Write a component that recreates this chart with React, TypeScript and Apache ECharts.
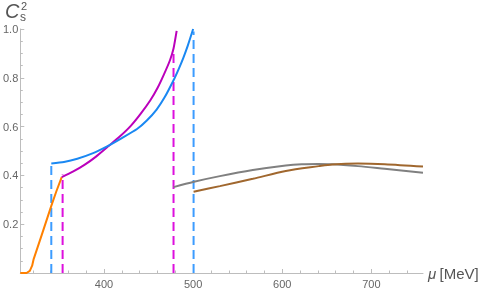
import React, { useEffect, useRef } from "react";
import * as echarts from "echarts";

// Orange branch
const MU_ORANGE = [306, 313, 316.7, 319.3, 321, 330, 340.8, 346.5, 352.5];
const CS2_ORANGE = [0, 0, 0.009, 0.03, 0.057, 0.155, 0.275, 0.335, 0.393];
// Magenta branch
const MU_MAGENTA = [352.5, 365, 378, 391, 404, 417, 430, 441, 452, 460, 467, 474, 478, 481.5];
const CS2_MAGENTA = [0.393, 0.415, 0.443, 0.477, 0.517, 0.557, 0.603, 0.652, 0.708, 0.758, 0.812, 0.872, 0.92, 0.992];
// Blue branch
const MU_BLUE = [340.8, 355, 370, 387, 404, 420, 437, 448, 459, 468, 478, 484, 489, 494, 500];
const CS2_BLUE = [0.449, 0.455, 0.468, 0.49, 0.52, 0.553, 0.59, 0.625, 0.67, 0.72, 0.79, 0.838, 0.882, 0.932, 1.0];
// Gray branch
const MU_GRAY = [478, 501, 530, 567, 604, 622, 640, 656, 685, 715, 758];
const CS2_GRAY = [0.352, 0.374, 0.397, 0.422, 0.441, 0.446, 0.447, 0.446, 0.438, 0.427, 0.411];
// Brown branch
const MU_BROWN = [500.5, 530, 567, 604, 641, 656, 685, 715, 758];
const CS2_BROWN = [0.333, 0.356, 0.386, 0.418, 0.438, 0.445, 0.449, 0.446, 0.436];
// Dashed transition markers
const DASH_BLUE_MU = [340.8, 500.5];
const DASH_BLUE_TOP = [0.449, 0.99];
const DASH_MAGENTA_MU = [353.5, 478];
const DASH_MAGENTA_TOP = [0.404, 0.915];

// Axes
const X_MIN = 306;
const X_MAX = 758;
const X_MAJOR = [400, 500, 600, 700];
const X_MINOR = [320, 340, 360, 380, 420, 440, 460, 480, 520, 540, 560, 580, 620, 640, 660, 680, 720, 740];
const Y_MAJOR = [0.2, 0.4, 0.6, 0.8, 1.0];
const Y_MINOR = [0.05, 0.1, 0.15, 0.25, 0.3, 0.35, 0.45, 0.5, 0.55, 0.65, 0.7, 0.75, 0.85, 0.9, 0.95];

const zip = (xs: number[], ys: number[]) => xs.map((x, i) => [x, ys[i]]);

const AXIS_COLOR = "#bdbdbd";
const LABEL_COLOR = "#666";
const FONT = "Liberation Sans, Arial, sans-serif";

export default function App() {
  const ref = useRef<HTMLDivElement>(null);
  useEffect(() => {
    if (!ref.current) return;
    const chart = echarts.init(ref.current, undefined, { renderer: "svg" });
    const curve = (name: string, xs: number[], ys: number[], color: string, smooth: number | boolean) => ({
      name,
      type: "line",
      xAxisIndex: 0,
      yAxisIndex: 0,
      data: zip(xs, ys),
      showSymbol: false,
      smooth,
      lineStyle: { color, width: 2 },
      z: 3,
    });
    const dashes = (mus: number[], tops: number[], color: string) =>
      mus.map((m, i) => ({
        type: "line",
        xAxisIndex: 0,
        yAxisIndex: 0,
        data: [[m, 0], [m, tops[i]]],
        showSymbol: false,
        lineStyle: { color, width: 2, type: [9, 5] },
        z: 2,
      }));
    chart.setOption({
      animation: false,
      grid: { left: 16, right: 68, top: 29, bottom: 15, containLabel: false },
      xAxis: [
        {
          type: "value",
          min: X_MIN,
          max: X_MAX,
          position: "bottom",
          axisLine: { show: true, onZero: false, lineStyle: { color: AXIS_COLOR, width: 1 } },
          axisTick: { show: true, inside: true, length: 4, customValues: X_MAJOR, lineStyle: { color: AXIS_COLOR } },
          axisLabel: { show: true, customValues: X_MAJOR, color: LABEL_COLOR, fontSize: 11, fontFamily: FONT, margin: 5 },
          splitLine: { show: false },
          name: "{m|μ} {t|[MeV]}",
          nameLocation: "end",
          nameGap: 5,
          nameTextStyle: {
            rich: {
              m: { fontStyle: "italic", fontSize: 15, color: "#555", fontFamily: FONT },
              t: { fontSize: 15, color: "#555", fontFamily: FONT },
            },
          },
        },
        {
          type: "value",
          min: X_MIN,
          max: X_MAX,
          position: "bottom",
          offset: 0,
          axisLine: { show: false },
          axisTick: { show: true, inside: true, length: 2.5, customValues: X_MINOR, lineStyle: { color: AXIS_COLOR } },
          axisLabel: { show: false },
          splitLine: { show: false },
        },
      ],
      yAxis: [
        {
          type: "value",
          min: 0,
          max: 1,
          position: "left",
          axisLine: { show: true, onZero: false, lineStyle: { color: AXIS_COLOR, width: 1 } },
          axisTick: { show: true, inside: true, length: 4, customValues: Y_MAJOR, lineStyle: { color: AXIS_COLOR } },
          axisLabel: {
            show: true,
            customValues: Y_MAJOR,
            color: LABEL_COLOR,
            fontSize: 11,
            fontFamily: FONT,
            margin: 2,
            formatter: (v: number) => v.toFixed(1),
          },
          splitLine: { show: false },
        },
        {
          type: "value",
          min: 0,
          max: 1,
          position: "left",
          offset: 0,
          axisLine: { show: false },
          axisTick: { show: true, inside: true, length: 2.5, customValues: Y_MINOR, lineStyle: { color: AXIS_COLOR } },
          axisLabel: { show: false },
          splitLine: { show: false },
        },
      ],
      graphic: [
        { type: "text", left: 5, top: 1, style: { text: "C", font: `italic 20px ${FONT}`, fill: "#555" } },
        { type: "text", left: 21, top: 0, style: { text: "2", font: `11px ${FONT}`, fill: "#555" } },
        { type: "text", left: 20, top: 11, style: { text: "s", font: `12px ${FONT}`, fill: "#555" } },
      ],
      series: [
        ...dashes(DASH_BLUE_MU, DASH_BLUE_TOP, "#3c9cff"),
        ...dashes(DASH_MAGENTA_MU, DASH_MAGENTA_TOP, "#dd10dd"),
        curve("orange", MU_ORANGE, CS2_ORANGE, "#ff8000", false),
        curve("magenta", MU_MAGENTA, CS2_MAGENTA, "#bb00bb", 0.2),
        curve("blue", MU_BLUE, CS2_BLUE, "#1a88f2", 0.2),
        curve("gray", MU_GRAY, CS2_GRAY, "#808080", 0.3),
        curve("brown", MU_BROWN, CS2_BROWN, "#a0672e", 0.3),
      ],
    });
    return () => chart.dispose();
  }, []);
  return (
    <div
      ref={ref}
      style={{ position: "fixed", left: 0, top: 0, width: 491, height: 289 }}
    />
  );
}
